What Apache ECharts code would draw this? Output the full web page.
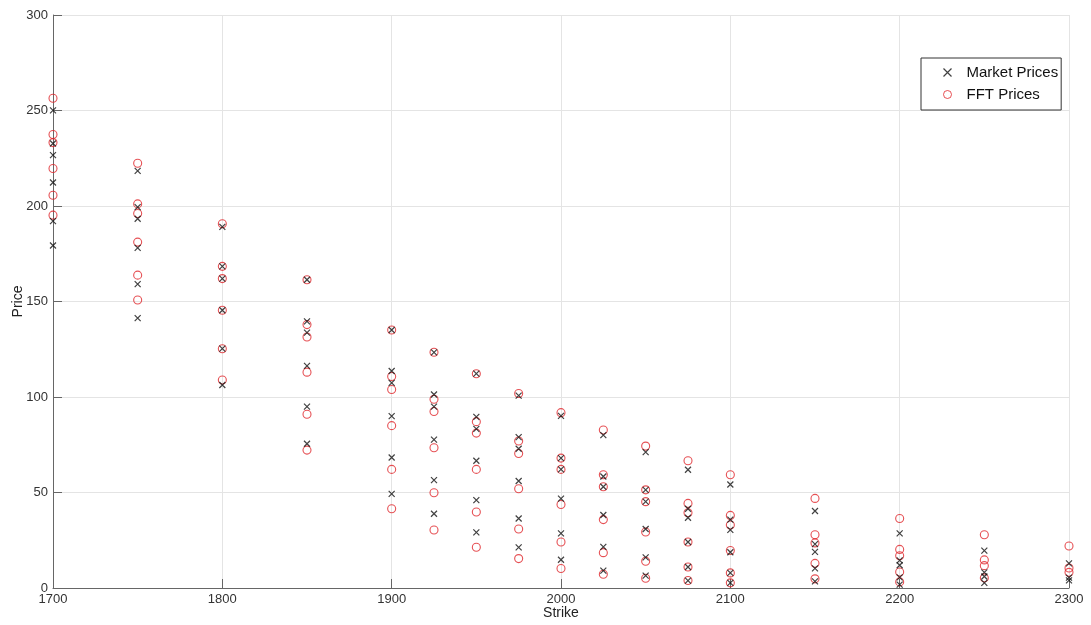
<!DOCTYPE html>
<html><head><meta charset="utf-8">
<script src="https://cdn.jsdelivr.net/npm/echarts@6/dist/echarts.min.js"></script>
<style>html,body{margin:0;padding:0;background:#fff}#c{width:1091px;height:625px}</style>
</head><body><div id="c"></div>
<script>
const strikes = [1700,1750,1800,1850,1900,1925,1950,1975,2000,2025,2050,2075,2100,2150,2200,2250,2300];

const marketPrices = [
  [250.1, 232.7, 226.6, 212.3, 192.1, 179.3],
  [218.4, 199.4, 193.3, 178.1, 159.1, 141.3],
  [189.1, 168.4, 162.0, 145.4, 125.3, 106.3],
  [161.4, 139.6, 133.7, 116.3, 95.0, 75.5],
  [135.1, 113.6, 107.4, 90.0, 68.3, 49.3],
  [123.4, 101.3, 95.0, 77.7, 56.5, 38.9],
  [112.2, 89.6, 83.3, 66.6, 46.0, 29.1],
  [100.7, 79.0, 72.9, 56.0, 36.4, 21.3],
  [90.1, 68.0, 62.1, 46.8, 28.6, 14.8],
  [80.0, 58.4, 53.0, 38.2, 21.5, 9.1],
  [71.1, 51.4, 45.2, 30.9, 16.0, 6.5],
  [61.9, 41.5, 36.8, 24.1, 11.0, 3.9],
  [54.2, 35.8, 30.4, 18.7, 7.9, 2.7],
  [40.3, 23.0, 18.9, 10.3, 3.5],
  [28.6, 14.5, 11.9, 5.6, 1.8],
  [19.6, 8.2, 6.0, 2.7],
  [12.9, 5.4, 4.0]
];

const fftPrices = [
  [256.4, 237.4, 233.2, 219.6, 205.6, 195.2],
  [222.4, 201.1, 196.1, 181.1, 163.8, 150.8],
  [190.7, 168.4, 162.0, 145.4, 125.3, 108.9],
  [161.4, 137.9, 131.4, 113.0, 91.0, 72.2],
  [135.1, 110.7, 103.9, 85.0, 62.1, 41.5],
  [123.4, 98.8, 92.4, 73.4, 49.9, 30.4],
  [112.2, 87.1, 81.1, 62.1, 39.8, 21.3],
  [101.8, 77.0, 70.4, 52.0, 30.9, 15.4],
  [91.8, 68.0, 62.1, 43.7, 24.1, 10.2],
  [82.7, 59.3, 53.0, 35.8, 18.5, 7.2],
  [74.3, 51.4, 45.2, 29.3, 14.0, 5.1],
  [66.6, 44.3, 39.4, 24.1, 11.0, 3.9],
  [59.3, 38.0, 33.0, 19.6, 7.9, 2.7],
  [46.9, 27.9, 23.6, 12.9, 4.8],
  [36.4, 20.2, 16.9, 8.4, 3.2],
  [27.9, 14.7, 11.7, 5.3],
  [22.0, 10.5, 8.2]
];

const xTicks = [1700, 1800, 1900, 2000, 2100, 2200, 2300];
const yTicks = [0, 50, 100, 150, 200, 250, 300];

function toPairs(groups) {
  const out = [];
  strikes.forEach((k, i) => groups[i].forEach(v => out.push([k, v])));
  return out;
}

const FONT = "'Liberation Sans', Arial, Helvetica, sans-serif";
const chart = echarts.init(document.getElementById('c'), null, {renderer: 'canvas'});
const axisCommon = {
  nameMoveOverlap: false,
  axisLine: {show: true, lineStyle: {color: '#666', width: 1}},
  axisTick: {show: true, inside: true, length: 9, lineStyle: {color: '#666'}},
  splitLine: {show: true, lineStyle: {color: '#e4e4e4', width: 1}},
  nameTextStyle: {fontFamily: FONT, fontSize: 14, color: '#222'}
};
chart.setOption({
  animation: false,
  backgroundColor: '#fff',
  grid: {left: 53, right: 22, top: 15, bottom: 37, containLabel: false, outerBoundsMode: 'none'},
  xAxis: Object.assign({}, axisCommon, {
    type: 'value', min: xTicks[0], max: xTicks[xTicks.length - 1], interval: 100,
    name: 'Strike', nameLocation: 'middle', nameGap: 18,
    axisLabel: {fontFamily: FONT, fontSize: 13, color: '#333', margin: 5,
      formatter: v => String(v)}
  }),
  yAxis: Object.assign({}, axisCommon, {
    type: 'value', min: yTicks[0], max: yTicks[yTicks.length - 1], interval: 50,
    name: 'Price', nameLocation: 'middle', nameGap: 28,
    axisLabel: {fontFamily: FONT, fontSize: 13, color: '#333', margin: 5,
      formatter: v => String(v)}
  }),
  legend: {
    orient: 'vertical', left: 921, top: 58,
    backgroundColor: '#fff', borderColor: '#333', borderWidth: 1,
    padding: [7, 3, 8, 20], itemGap: 7, itemWidth: 8, itemHeight: 15,
    textStyle: {fontFamily: FONT, fontSize: 15, color: '#111', padding: [0, 0, 0, 10]},
    data: [
      {name: 'Market Prices', icon: 'path://M0,0L10,10M10,0L0,10',
       itemStyle: {color: 'none', borderColor: '#111', borderWidth: 1.2}},
      {name: 'FFT Prices', icon: 'circle',
       itemStyle: {color: 'none', borderColor: '#e0262a', borderWidth: 1}}
    ]
  },
  series: [
    {
      name: 'Market Prices', type: 'scatter', z: 3,
      symbol: 'path://M0,0L10,10M10,0L0,10', symbolSize: 6,
      itemStyle: {color: 'none', borderColor: '#111', borderWidth: 1.2},
      data: toPairs(marketPrices)
    },
    {
      name: 'FFT Prices', type: 'scatter', z: 2,
      symbol: 'circle', symbolSize: 8,
      itemStyle: {color: 'none', borderColor: '#e0262a', borderWidth: 1.1},
      data: toPairs(fftPrices)
    }
  ]
});
</script>
</body></html>
